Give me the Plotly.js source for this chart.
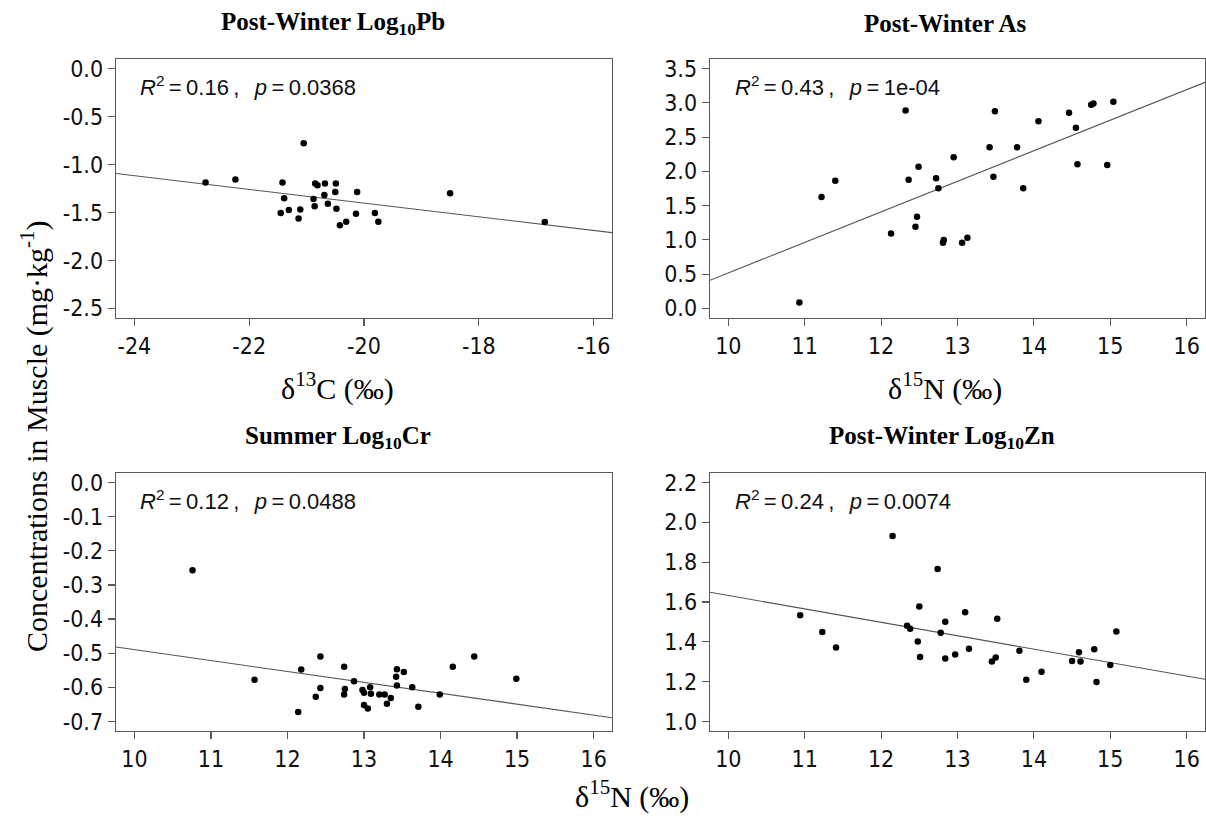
<!DOCTYPE html>
<html><head><meta charset="utf-8">
<script src="https://cdn.plot.ly/plotly-3.0.1.min.js"></script>
<style>html,body{margin:0;padding:0;background:#fff}#chart{width:1206px;height:816px}</style>
</head><body><div id="chart"></div>
<script>
// ---- Panel A: Post-Winter Log10Pb vs d13C ----
const pbD13C = [-21.05,-22.76,-22.24,-21.42,-21.39,-21.45,-21.31,-21.11,-21.14,-20.85,-20.81,-20.68,-20.49,-20.88,-20.86,-20.69,-20.63,-20.50,-20.48,-20.42,-20.31,-20.12,-20.14,-19.81,-19.75,-18.50,-16.85];
const pbLog  = [-0.779,-1.188,-1.156,-1.188,-1.352,-1.506,-1.475,-1.468,-1.562,-1.198,-1.216,-1.198,-1.198,-1.359,-1.436,-1.317,-1.408,-1.286,-1.460,-1.632,-1.597,-1.286,-1.513,-1.506,-1.597,-1.300,-1.600];
const pbFitX = [-24.32, -15.68];
const pbFitY = [-1.094, -1.710];
const pbXTicks = [-24,-22,-20,-18,-16];
const pbXTickText = ['-24','-22','-20','-18','-16'];
const pbYTicks = [0,-0.5,-1,-1.5,-2,-2.5];
const pbYTickText = ['0.0','-0.5','-1.0','-1.5','-2.0','-2.5'];

// ---- Panel B: Post-Winter As vs d15N ----
const asD15N = [10.93,11.22,11.40,12.13,12.32,12.36,12.49,12.47,12.45,12.72,12.75,12.82,12.81,12.95,13.06,13.13,13.42,13.47,13.49,13.78,13.86,14.06,14.46,14.55,14.57,14.75,14.78,14.96,15.04];
const asConc = [0.088,1.625,1.864,1.093,2.889,1.879,2.069,1.337,1.191,1.898,1.752,1.000,0.957,2.206,0.957,1.030,2.352,1.923,2.879,2.352,1.752,2.733,2.855,2.635,2.103,2.972,2.992,2.094,3.016];
const asFitX = [9.76, 16.24];
const asFitY = [0.41, 3.30];
const asYTicks = [0,0.5,1,1.5,2,2.5,3,3.5];
const asYTickText = ['0.0','0.5','1.0','1.5','2.0','2.5','3.0','3.5'];

// ---- Panel C: Summer Log10Cr vs d15N ----
const crD15N = [10.76,11.57,12.14,12.18,12.37,12.43,12.43,12.74,12.75,12.74,12.87,12.98,13.00,13.08,13.09,13.00,13.05,13.20,13.27,13.30,13.35,13.43,13.42,13.43,13.52,13.63,13.71,13.99,14.16,14.44,14.99];
const crLog  = [-0.257,-0.578,-0.672,-0.548,-0.628,-0.510,-0.602,-0.540,-0.605,-0.621,-0.582,-0.608,-0.616,-0.600,-0.619,-0.652,-0.662,-0.621,-0.621,-0.648,-0.631,-0.547,-0.569,-0.595,-0.555,-0.600,-0.657,-0.621,-0.540,-0.510,-0.575];
const crFitX = [9.76, 16.24];
const crFitY = [-0.482, -0.689];
const crYTicks = [0,-0.1,-0.2,-0.3,-0.4,-0.5,-0.6,-0.7];
const crYTickText = ['0.0','-0.1','-0.2','-0.3','-0.4','-0.5','-0.6','-0.7'];

// ---- Panel D: Post-Winter Log10Zn vs d15N ----
const znD15N = [10.94,11.23,11.41,12.15,12.34,12.38,12.50,12.48,12.51,12.74,12.78,12.84,12.84,12.97,13.10,13.15,13.45,13.50,13.52,13.81,13.90,14.10,14.50,14.59,14.61,14.79,14.82,15.00,15.08];
const znLog  = [1.534,1.449,1.371,1.931,1.481,1.466,1.578,1.402,1.324,1.766,1.445,1.501,1.316,1.336,1.548,1.365,1.301,1.321,1.516,1.355,1.210,1.250,1.304,1.348,1.301,1.363,1.198,1.284,1.452];
const znFitX = [9.76, 16.24];
const znFitY = [1.649, 1.212];
const znYTicks = [1.0,1.2,1.4,1.6,1.8,2.0,2.2];
const znYTickText = ['1.0','1.2','1.4','1.6','1.8','2.0','2.2'];

const nXTicks = [10,11,12,13,14,15,16];
const nXTickText = ['10','11','12','13','14','15','16'];

const panelTitles = ['Post-Winter Log<sub>10</sub>Pb','Post-Winter As','Summer Log<sub>10</sub>Cr','Post-Winter Log<sub>10</sub>Zn'];
const statTexts = [
  '<i>R</i><sup>2</sup>\u2009=\u20090.16\u2009,\u2002\u2009<i>p</i>\u2009=\u20090.0368',
  '<i>R</i><sup>2</sup>\u2009=\u20090.43\u2009,\u2002\u2009<i>p</i>\u2009=\u20091e-04',
  '<i>R</i><sup>2</sup>\u2009=\u20090.12\u2009,\u2002\u2009<i>p</i>\u2009=\u20090.0488',
  '<i>R</i><sup>2</sup>\u2009=\u20090.24\u2009,\u2002\u2009<i>p</i>\u2009=\u20090.0074'
];
const xLabelTop = ['δ<sup>13</sup>C (‰)','δ<sup>15</sup>N (‰)'];
const xLabelBottom = 'δ<sup>15</sup>N (‰)';
const yLabel = 'Concentrations in Muscle (mg·kg<sup>-1</sup>)';

// ---- layout helpers (pixel -> paper) ----
const W = 1206, H = 816;
const px = v => v / W;
const py = v => 1 - v / H;
const colL = [px(116), px(612)], colR = [px(710), px(1205)];
const rowT = [py(318), py(59)], rowB = [py(731), py(473)];

const tickFont = {family:'"Liberation Sans Narrow","DejaVu Sans Condensed","Liberation Sans",Arial,sans-serif', size:23, color:'#111'};
const axBase = {showgrid:false, zeroline:false, showline:true, mirror:true, linecolor:'#5a5a5a', linewidth:1.3,
  ticks:'outside', ticklen:7, tickwidth:1.2, tickcolor:'#5a5a5a', tickfont:tickFont, tickmode:'array', fixedrange:true};
const ax = (o) => Object.assign({}, axBase, o);

const pt = (x, y, xa, ya) => ({x, y, xaxis:xa, yaxis:ya, type:'scatter', mode:'markers', marker:{color:'#000', size:6.5}, hoverinfo:'skip', showlegend:false});
const ln = (x, y, xa, ya) => ({x, y, xaxis:xa, yaxis:ya, type:'scatter', mode:'lines', line:{color:'#555', width:1.1}, hoverinfo:'skip', showlegend:false});

const data = [
  ln(pbFitX, pbFitY, 'x', 'y'),   pt(pbD13C, pbLog, 'x', 'y'),
  ln(asFitX, asFitY, 'x2', 'y2'), pt(asD15N, asConc, 'x2', 'y2'),
  ln(crFitX, crFitY, 'x3', 'y3'), pt(crD15N, crLog, 'x3', 'y3'),
  ln(znFitX, znFitY, 'x4', 'y4'), pt(znD15N, znLog, 'x4', 'y4')
];

const titleFont = {family:'"Liberation Serif","Times New Roman",serif', size:25, color:'#000'};
const labFont = {family:'"Liberation Serif","Times New Roman",serif', size:30, color:'#000'};
const statFont = {family:'"Liberation Sans",Arial,sans-serif', size:22, color:'#111'};

const ann = [];
const titlePos = [[333,23],[945,23],[338,437],[942,437]];
panelTitles.forEach((t,i)=>ann.push({text:'<b>'+t+'</b>', x:px(titlePos[i][0]), y:py(titlePos[i][1]), xref:'paper', yref:'paper', xanchor:'center', yanchor:'middle', showarrow:false, font:titleFont}));
const statPos = [[138,86],[733,86],[138,500],[733,500]];
statTexts.forEach((t,i)=>ann.push({text:t, x:px(statPos[i][0]), y:py(statPos[i][1]), xref:'paper', yref:'paper', xanchor:'left', yanchor:'middle', showarrow:false, font:statFont}));
ann.push({text:xLabelTop[0], x:px(337), y:py(386), xref:'paper', yref:'paper', xanchor:'center', yanchor:'middle', showarrow:false, font:labFont});
ann.push({text:xLabelTop[1], x:px(945), y:py(386), xref:'paper', yref:'paper', xanchor:'center', yanchor:'middle', showarrow:false, font:labFont});
ann.push({text:xLabelBottom, x:px(632), y:py(794), xref:'paper', yref:'paper', xanchor:'center', yanchor:'middle', showarrow:false, font:labFont});
ann.push({text:yLabel, x:px(34), y:py(436), xref:'paper', yref:'paper', xanchor:'center', yanchor:'middle', textangle:-90, showarrow:false, font:labFont});

const layout = {
  width:W, height:H, margin:{l:0,r:0,t:0,b:0}, paper_bgcolor:'#fff', plot_bgcolor:'#fff', showlegend:false,
  xaxis:  ax({domain:colL, anchor:'y',  range:[-24.32,-15.68], tickvals:pbXTicks, ticktext:pbXTickText}),
  yaxis:  ax({domain:rowT, anchor:'x',  range:[-2.6,0.1], tickvals:pbYTicks, ticktext:pbYTickText}),
  xaxis2: ax({domain:colR, anchor:'y2', range:[9.76,16.24], tickvals:nXTicks, ticktext:nXTickText}),
  yaxis2: ax({domain:rowT, anchor:'x2', range:[-0.14,3.64], tickvals:asYTicks, ticktext:asYTickText}),
  xaxis3: ax({domain:colL, anchor:'y3', range:[9.76,16.24], tickvals:nXTicks, ticktext:nXTickText}),
  yaxis3: ax({domain:rowB, anchor:'x3', range:[-0.728,0.028], tickvals:crYTicks, ticktext:crYTickText}),
  xaxis4: ax({domain:colR, anchor:'y4', range:[9.76,16.24], tickvals:nXTicks, ticktext:nXTickText}),
  yaxis4: ax({domain:rowB, anchor:'x4', range:[0.952,2.248], tickvals:znYTicks, ticktext:znYTickText}),
  annotations: ann
};
Plotly.newPlot('chart', data, layout, {displayModeBar:false, staticPlot:true});
</script></body></html>
